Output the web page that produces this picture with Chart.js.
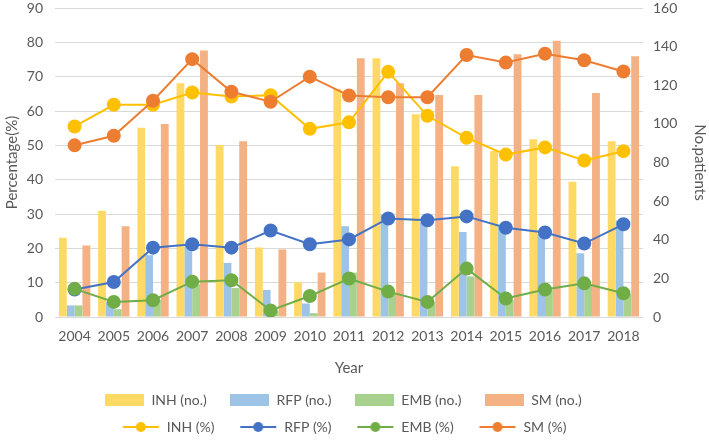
<!DOCTYPE html>
<html>
<head>
<meta charset="utf-8">
<script src="https://cdn.jsdelivr.net/npm/chart.js@4.4.1/dist/chart.umd.min.js"></script>
<style>
  html, body { margin: 0; padding: 0; background: #fff; }
  #wrap { width: 709px; height: 441px; }
</style>
</head>
<body>
<div id="wrap"><canvas id="resistChart"></canvas></div>
<script>
// Years on the x axis
const years = ['2004', '2005', '2006', '2007', '2008', '2009', '2010', '2011',
               '2012', '2013', '2014', '2015', '2016', '2017', '2018'];

// Number of patients (right axis)
const inhNo = [41, 55, 98, 121, 89, 36, 18, 118, 134, 105, 78, 86, 92, 70, 91];
const rfpNo = [6, 8, 32, 37, 28, 14, 7, 47, 53, 49, 44, 47, 43, 33, 50];
const embNo = [6, 4, 9, 17, 15, 3, 2, 23, 12, 8, 21, 9, 14, 17, 12];
const smNo = [37, 47, 100, 138, 91, 35, 23, 134, 121, 115, 115, 136, 143, 116, 135];

// Percentages (left axis)
const inhPct = [55.5, 61.8, 61.8, 65.4, 64.2, 64.6, 54.8, 56.7, 71.4, 58.6, 52.2, 47.3, 49.4, 45.6, 48.3];
const rfpPct = [8.0, 10.2, 20.2, 21.2, 20.2, 25.2, 21.2, 22.6, 28.7, 28.2, 29.3, 26.0, 24.6, 21.4, 27.0];
const embPct = [8.2, 4.4, 4.9, 10.3, 10.7, 1.9, 6.1, 11.2, 7.4, 4.4, 14.1, 5.4, 8.0, 9.8, 6.9];
const smPct = [50.0, 52.8, 63.0, 75.1, 65.6, 62.7, 70.0, 64.5, 64.0, 64.0, 76.3, 74.1, 76.7, 74.8, 71.5];

const textColor = '#595959';
const gridColor = '#d9d9d9';
const fontFamily = 'Lato, "Open Sans", sans-serif';

// legend swatches: wide box for bars, line with dot for lines
function makeSwatch(color, isLine) {
    let c = document.createElement('canvas');
    c.width = 39;
    c.height = 14;
    let g = c.getContext('2d');
    g.fillStyle = color;
    if (isLine) {
        g.strokeStyle = color;
        g.lineWidth = 2;
        g.beginPath();
        g.moveTo(2, 7);
        g.lineTo(38, 7);
        g.stroke();
        g.beginPath();
        g.arc(20, 7, 5, 0, Math.PI * 2);
        g.fill();
    } else {
        g.fillRect(0, 1, 39, 12);
    }
    return c;
}

function barSet(label, data, color) {
    return {
        type: 'bar',
        label: label,
        data: data,
        backgroundColor: color,
        yAxisID: 'y1',
        order: 10,
        categoryPercentage: 0.8,
        barPercentage: 1.0,
        swatch: makeSwatch(color, false)
    };
}

function lineSet(label, data, color, order) {
    return {
        type: 'line',
        label: label,
        data: data,
        borderColor: color,
        backgroundColor: color,
        pointBackgroundColor: color,
        pointBorderColor: color,
        borderWidth: 2,
        pointRadius: 6,
        pointHoverRadius: 6,
        tension: 0,
        yAxisID: 'y',
        order: order,
        swatch: makeSwatch(color, true)
    };
}

const datasets = [
    barSet('INH (no.)', inhNo, '#ffd966'),
    barSet('RFP (no.)', rfpNo, '#9dc3e6'),
    barSet('EMB (no.)', embNo, '#a9d18e'),
    barSet('SM (no.)', smNo, '#f4b183'),
    lineSet('INH (%)', inhPct, '#ffc000', 4),
    lineSet('RFP (%)', rfpPct, '#4472c4', 3),
    lineSet('EMB (%)', embPct, '#70ad47', 2),
    lineSet('SM (%)', smPct, '#ed7d31', 1)
];

let ctx = document.getElementById('resistChart').getContext('2d');
new Chart(ctx, {
    type: 'bar',
    data: { labels: years, datasets: datasets },
    options: {
        responsive: true,
        maintainAspectRatio: false,
        animation: false,
        layout: { padding: { top: 0, bottom: -3, left: 0, right: 0 } },
        plugins: {
            tooltip: { enabled: false },
            legend: {
                position: 'bottom',
                fullSize: false,
                labels: {
                    usePointStyle: true,
                    pointStyleWidth: 39,
                    padding: 13,
                    color: textColor,
                    font: { family: fontFamily, size: 14 },
                    sort: (a, b) => a.datasetIndex - b.datasetIndex,
                    generateLabels: (chart) => {
                        let items = Chart.defaults.plugins.legend.labels.generateLabels(chart);
                        items.forEach(item => {
                            item.pointStyle = chart.data.datasets[item.datasetIndex].swatch;
                            // trailing spaces keep four entries per row
                            item.text = item.text + '   ';
                        });
                        return items;
                    }
                }
            }
        },
        scales: {
            x: {
                grid: { display: false, drawTicks: false },
                border: { display: false },
                ticks: {
                    color: textColor,
                    padding: 11,
                    maxRotation: 0,
                    autoSkip: false,
                    font: { family: fontFamily, size: 14 }
                },
                title: {
                    display: true,
                    text: 'Year',
                    color: textColor,
                    padding: { top: 0, bottom: 3 },
                    font: { family: fontFamily, size: 15 }
                },
                afterFit: (scale) => { scale.height = 63; }
            },
            y: {
                position: 'left',
                min: 0,
                max: 90,
                grid: { color: gridColor, lineWidth: 1, drawTicks: true, tickLength: 12, tickColor: 'rgba(0,0,0,0)' },
                border: { display: false },
                ticks: {
                    stepSize: 10,
                    color: textColor,
                    padding: 0,
                    font: { family: fontFamily, size: 14, lineHeight: 1 }
                },
                title: {
                    display: true,
                    text: 'Percentage(%)',
                    color: textColor,
                    padding: { top: 3, bottom: 0 },
                    font: { family: fontFamily, size: 15 }
                },
                afterFit: (scale) => { scale.width = 55; }
            },
            y1: {
                position: 'right',
                min: 0,
                max: 160,
                grid: { display: true, drawOnChartArea: false, drawTicks: true, tickLength: 10, tickColor: 'rgba(0,0,0,0)' },
                border: { display: false },
                ticks: {
                    stepSize: 20,
                    color: textColor,
                    padding: 0,
                    font: { family: fontFamily, size: 14, lineHeight: 1 }
                },
                title: {
                    display: true,
                    text: 'No.patients',
                    color: textColor,
                    padding: { top: 0, bottom: 0 },
                    font: { family: fontFamily, size: 15 }
                },
                afterFit: (scale) => { scale.width = 66; }
            }
        }
    }
});
</script>
</body>
</html>
